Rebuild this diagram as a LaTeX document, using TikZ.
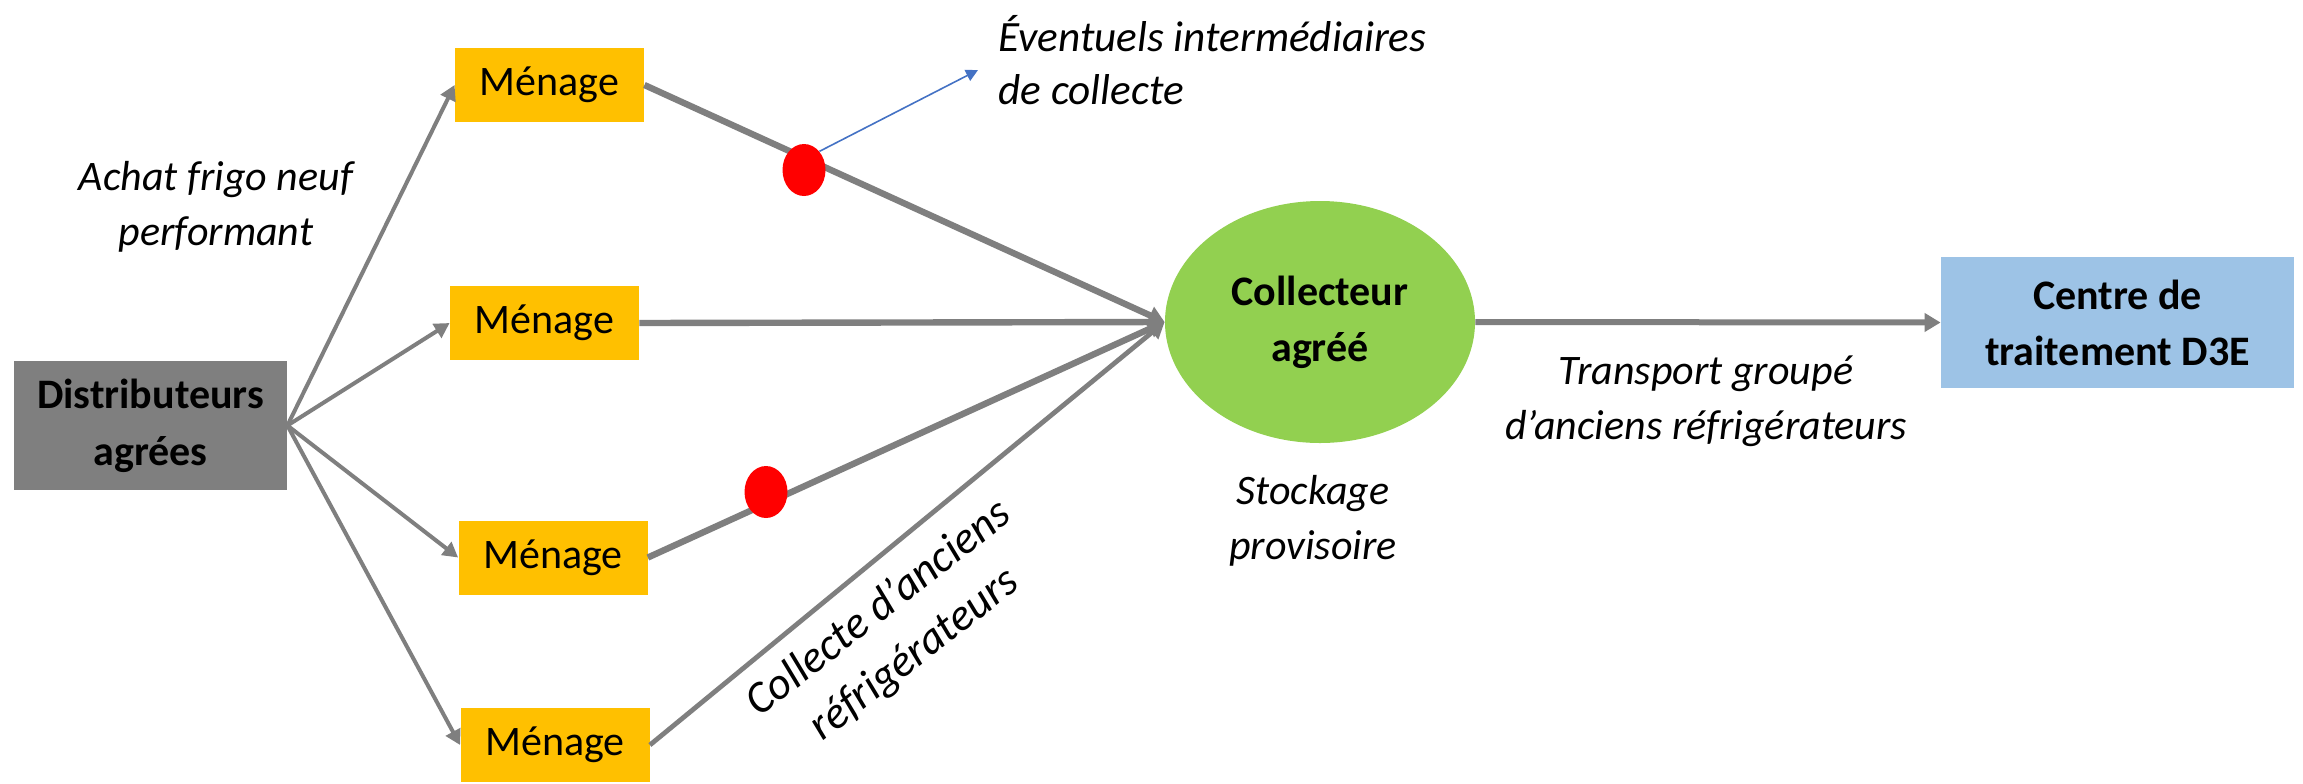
\documentclass[tikz,border=0pt]{standalone}
\usepackage{fontspec}
\setmainfont{Carlito}
\usetikzlibrary{arrows.meta,shapes.geometric}
\definecolor{menagec}{HTML}{FFC000}
\definecolor{distc}{HTML}{7F7F7F}
\definecolor{collc}{HTML}{92D050}
\definecolor{centrec}{HTML}{9DC3E6}
\definecolor{linec}{HTML}{7F7F7F}
\definecolor{bluec}{HTML}{4472C4}
\begin{document}
\begin{tikzpicture}[x=0.5pt,y=-0.5pt,
  font=\fontsize{21}{27.5}\selectfont,
  menagebox/.style={fill=menagec, draw=none, minimum width=94.5pt, minimum height=37pt, inner sep=0pt},
  lbl/.style={font=\fontsize{21}{27.5}\selectfont\itshape, align=center, inner sep=0pt},
  reddot/.style={ellipse, fill=red, draw=none, minimum width=21.5pt, minimum height=26pt, inner sep=0pt},
  thinarrow/.style={draw=linec, line width=2pt, -{Triangle[length=7.5pt,width=8pt]}},
  thickarrow/.style={draw=linec, line width=3.2pt, -{Triangle[length=8pt,width=9pt]}},
]
\useasboundingbox (0,0) rectangle (2303,783);

% nodes
\node[fill=distc, minimum width=136.5pt, minimum height=64.5pt, inner sep=0pt, align=center, font=\fontsize{21}{28.5}\selectfont\bfseries] (dist) at (150.5,425.5) {Distributeurs\\agrées};
\node[menagebox] (m1) at (549.5,85) {Ménage};
\node[menagebox] (m2) at (544.5,323) {Ménage};
\node[menagebox] (m3) at (553,557.5) {Ménage};
\node[menagebox] (m4) at (555,745) {Ménage};
\node[ellipse, fill=collc, minimum width=155pt, minimum height=121pt, inner sep=0pt, align=center, font=\fontsize{21}{28}\selectfont\bfseries] (coll) at (1320,322) {Collecteur\\agréé};
\node[fill=centrec, minimum width=176.5pt, minimum height=65.5pt, inner sep=0pt, align=center, font=\fontsize{21}{28}\selectfont\bfseries] (centre) at (2117.5,322.5) {Centre de\\traitement D3E};

% connectors from distributors
\draw[thinarrow] (dist.east) -- (m1.west);
\draw[thinarrow] (dist.east) -- (m2.west);
\draw[thinarrow] (dist.east) -- (m3.west);
\draw[thinarrow] (dist.east) -- (m4.west);

% connectors to collector
\draw[thickarrow] (m1.east) -- (coll.west);
\draw[thickarrow] (m2.east) -- (coll.west);
\draw[thickarrow] (m3.east) -- (coll.west);
\draw[thickarrow, line width=2.4pt] (m4.east) -- (coll.west);
\draw[thickarrow, line width=3pt] (coll.east) -- (centre.west);

% red dots
\node[reddot] (d1) at (804,170) {};
\node[reddot] (d2) at (766,492) {};
\coordinate (evt) at (978,70);
\draw[bluec, line width=0.8pt, -{Triangle[length=6pt,width=6pt]}] (d1.north east) -- (evt);

% labels
\node[lbl] (achat) at (216,207) {Achat frigo neuf\\performant};
\node[lbl, align=left, anchor=west, font=\fontsize{21.6}{26.5}\selectfont\itshape] (eventuels) at (998,60) {Éventuels intermédiaires\\de collecte};
\node[lbl] (transport) at (1706,401) {Transport groupé\\d’anciens réfrigérateurs};
\node[lbl] (stock) at (1313,521) {Stockage\\provisoire};
\node[lbl, rotate=38, font=\fontsize{22.5}{29}\selectfont\itshape] (collecte) at (897,632) {Collecte d’anciens\\réfrigérateurs};
\end{tikzpicture}
\end{document}
